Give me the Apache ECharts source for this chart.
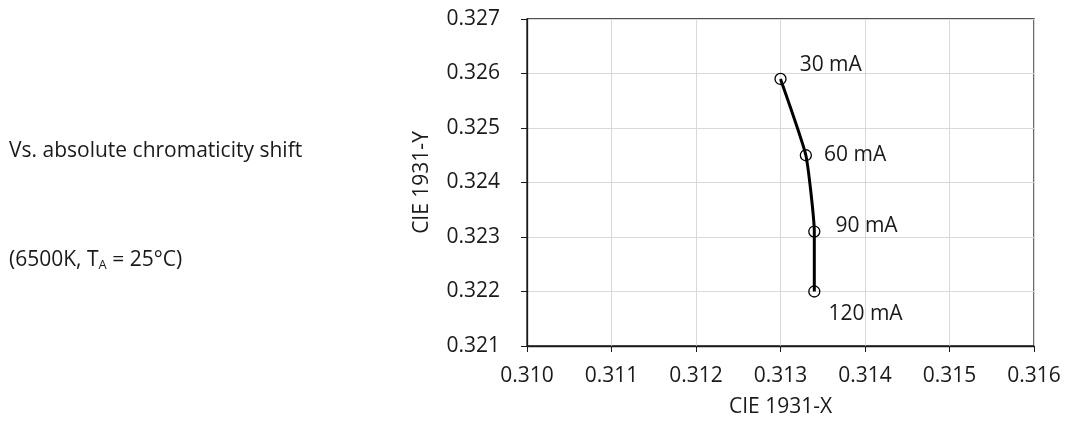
<!DOCTYPE html>
<html><head><meta charset="utf-8">
<script src="https://cdn.jsdelivr.net/npm/echarts@6/dist/echarts.min.js"></script>
<style>html,body{margin:0;padding:0;background:#fff}#c{width:1065px;height:423px}</style>
</head><body><div id="c"></div>
<script>
const currents = ['30 mA', '60 mA', '90 mA', '120 mA'];
const cieX = [0.3130, 0.3133, 0.3134, 0.3134];
const cieY = [0.3259, 0.3245, 0.3231, 0.3220];
const xTicks = [0.310, 0.311, 0.312, 0.313, 0.314, 0.315, 0.316];
const yTicks = [0.321, 0.322, 0.323, 0.324, 0.325, 0.326, 0.327];
const labelOffsets = [[13, -14], [12, 0], [15, -6], [8, 23]];

const FONT = '"Open Sans", "Noto Sans", sans-serif';
const FS = 21;
const TXT = '#1a1a1a';
const chart = echarts.init(document.getElementById('c'), null, {renderer: 'canvas'});
chart.setOption({
  animation: false,
  backgroundColor: '#fff',
  textStyle: {fontFamily: FONT},
  grid: {left: 527, right: 31, top: 19, bottom: 76, show: true, borderColor: '#1a1a1a', borderWidth: 1.3},
  graphic: [
    {type: 'text', left: 9, top: 141, style: {text: 'Vs. absolute chromaticity shift', font: FS + 'px ' + FONT, fill: TXT}},
    {type: 'text', left: 9, top: 250, style: {
      text: '(6500K, T{s|A} = 25°C)', font: FS + 'px ' + FONT, fill: TXT,
      rich: {s: {fontSize: 13, fontFamily: FONT, verticalAlign: 'bottom', padding: [10, 0, 0, 0], fill: TXT}}
    }}
  ],
  xAxis: {
    type: 'value', min: xTicks[0], max: xTicks[xTicks.length - 1], interval: 0.001,
    name: 'CIE 1931-X', nameLocation: 'middle', nameGap: 51,
    nameTextStyle: {fontSize: FS, color: TXT, fontFamily: FONT},
    axisLine: {show: true, lineStyle: {color: '#1a1a1a', width: 1.3}},
    axisTick: {show: true, length: 6, lineStyle: {color: '#1a1a1a'}},
    axisLabel: {fontSize: FS, color: TXT, margin: 20, fontFamily: FONT, formatter: v => v.toFixed(3)},
    splitLine: {show: true, lineStyle: {color: '#d9d9d9', width: 1}}
  },
  yAxis: {
    type: 'value', min: yTicks[0], max: yTicks[yTicks.length - 1], interval: 0.001,
    name: 'CIE 1931-Y', nameLocation: 'middle', nameGap: 94, nameRotate: 90,
    nameTextStyle: {fontSize: FS, color: TXT, fontFamily: FONT},
    axisLine: {show: true, lineStyle: {color: '#1a1a1a', width: 1.3}},
    axisTick: {show: true, length: 6, lineStyle: {color: '#1a1a1a'}},
    axisLabel: {fontSize: FS, color: TXT, margin: 27, fontFamily: FONT, formatter: v => v.toFixed(3)},
    splitLine: {show: true, lineStyle: {color: '#d9d9d9', width: 1}}
  },
  series: [{
    type: 'line',
    smooth: 0.15,
    data: cieX.map((x, i) => ({
      value: [x, cieY[i]],
      label: {offset: labelOffsets[i]}
    })),
    symbol: 'circle', symbolSize: 11,
    itemStyle: {color: 'rgba(255,255,255,0)', borderColor: '#000', borderWidth: 1.3},
    lineStyle: {color: '#000', width: 3},
    label: {
      show: true, position: 'right', distance: 0, fontSize: FS, color: TXT, fontFamily: FONT,
      formatter: p => currents[p.dataIndex]
    },
    z: 3
  }]
});
</script></body></html>
